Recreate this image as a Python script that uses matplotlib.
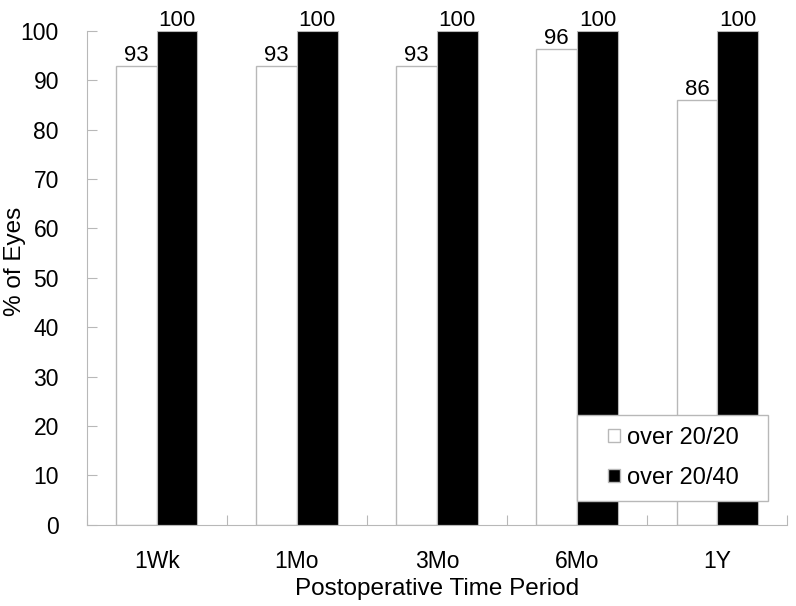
import numpy as np
import matplotlib
matplotlib.use("Agg")
import matplotlib.pyplot as plt
from matplotlib.patches import Patch, Rectangle

# data
periods = ["1Wk", "1Mo", "3Mo", "6Mo", "1Y"]
over_2020 = [92.9, 92.9, 92.9, 96.4, 86.1]
over_2040 = [100, 100, 100, 100, 100]
series_names = ["over 20/20", "over 20/40"]

GRAY = "#b8b8b8"
plt.rcParams["font.family"] = ["Liberation Sans", "DejaVu Sans"]

fig = plt.figure(figsize=(7.96, 6.06), dpi=100)
ax = fig.add_axes([0.109, 0.134, 0.880, 0.815])

x = np.arange(len(periods))
w = 0.29
b1 = ax.bar(x - w / 2, over_2020, w, color="white", edgecolor=GRAY, linewidth=1)
b2 = ax.bar(x + w / 2, over_2040, w, color="black", edgecolor=GRAY, linewidth=0.8)

for bars, vals in ((b1, over_2020), (b2, over_2040)):
    for rect, v in zip(bars, vals):
        ax.text(rect.get_x() + rect.get_width() / 2, v + 1.0, f"{v:.0f}",
                ha="center", va="baseline", fontsize=16, clip_on=False)

ax.set_xlim(-0.5, len(periods) - 0.5)
ax.set_ylim(0, 100)
ax.set_yticks(np.arange(0, 101, 10))

# category ticks sit on the boundaries, labels in the middle
ax.set_xticks(np.arange(-0.5, len(periods)), minor=False)
ax.set_xticklabels([])
ax.set_xticks(x, minor=True)
ax.set_xticklabels(periods, minor=True)
ax.tick_params(axis="x", which="major", direction="in", length=7, color=GRAY)
ax.tick_params(axis="x", which="minor", length=0, labelsize=16.5, pad=18)
ax.tick_params(axis="y", direction="in", length=7, color=GRAY, labelsize=16.5, pad=20)

for side in ("top", "right"):
    ax.spines[side].set_visible(False)
for side in ("left", "bottom"):
    ax.spines[side].set_color(GRAY)

ax.set_xlabel("Postoperative Time Period", fontsize=17.5)
ax.set_ylabel("% of Eyes", fontsize=17.5)
ax.xaxis.set_label_coords(0.5, -0.107)
ax.yaxis.set_label_coords(-0.087, 0.534)

# legend frame drawn by hand: the original has wide side padding
ax.add_patch(Rectangle((0.70, 0.0486), 0.273, 0.174, transform=ax.transAxes,
                       facecolor="white", edgecolor=GRAY, linewidth=1,
                       zorder=4, clip_on=False))
handles = [Patch(facecolor="white", edgecolor=GRAY, label=series_names[0]),
           Patch(facecolor="black", edgecolor=GRAY, label=series_names[1])]
leg = ax.legend(handles=handles, loc="center", bbox_to_anchor=(0.838, 0.1356),
                fontsize=17, frameon=False, handlelength=0.5,
                handleheight=0.5, handletextpad=0.3, labelspacing=0.75,
                borderpad=0, borderaxespad=0)
leg.set_zorder(5)

fig.savefig("out.png", dpi=100, facecolor="white")
